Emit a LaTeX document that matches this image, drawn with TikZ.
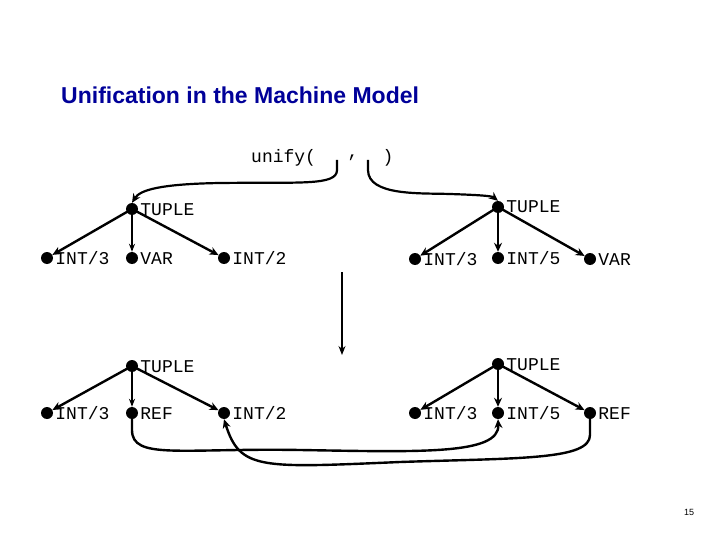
\documentclass[tikz,border=0pt]{standalone}
\usepackage{fontspec}
\setmainfont{Liberation Sans}
\newfontfamily\mono{Liberation Mono}
\usetikzlibrary{arrows.meta}
\begin{document}
\begin{tikzpicture}[x=1pt,y=-1pt,
  dot/.style={circle,fill=black,inner sep=0pt,minimum size=12pt},
  lbl/.style={anchor=base west,inner sep=0pt,font=\mono\fontsize{18}{18}\selectfont},
  edge/.style={line width=2.4pt,-{Stealth[length=9pt,width=8pt]}},
  link/.style={line width=2.4pt,-{Stealth[length=9pt,width=8pt]}}]
\useasboundingbox (0,0) rectangle (720,540);
\node[anchor=west,font=\bfseries\fontsize{23}{23}\selectfont,text=blue!60!black,inner sep=0pt] (title) at (61,95) {Unification in the Machine Model};
\node[anchor=west,inner sep=0pt,font=\mono\fontsize{18}{18}\selectfont] (unify) at (251,158) {unify(};
\node[inner sep=0pt,font=\mono\fontsize{18}{18}\selectfont] (comma) at (353,158) {,};
\node[inner sep=0pt,font=\mono\fontsize{18}{18}\selectfont] (close) at (388,158) {)};
\coordinate (b1) at (337,160);
\coordinate (b2) at (368,160);
% trees
\foreach \n/\x/\y/\t in {lt/132/209/TUPLE, la/47/258/{INT/3}, lb/132/258/VAR, lc/224/258/{INT/2},
  rt/498/207/TUPLE, ra/415/259/{INT/3}, rb/498/258/{INT/5}, rc/590/259/VAR,
  Lt/132/366/TUPLE, La/47/413/{INT/3}, Lb/132/413/REF, Lc/224/413/{INT/2},
  Rt/498/364/TUPLE, Ra/415/413/{INT/3}, Rb/498/413/{INT/5}, Rc/590/413/REF}{
  \node[dot] (\n) at (\x,\y) {};
  \node[lbl] (\n l) at ([xshift=2pt,yshift=-6pt]\n.east) {\t};
}
\foreach \p/\c in {lt/la,lt/lc,rt/ra,rt/rb,rt/rc,Lt/La,Lt/Lc,Rt/Ra,Rt/Rb,Rt/Rc}
  \draw[edge] (\p.center) -- (\c);
\draw[line width=1.2pt,-{Stealth[length=8pt,width=6pt]}] (lt) -- (lb);
\draw[line width=1.2pt,-{Stealth[length=8pt,width=6pt]}] (Lt) -- (Lb);
% bracket arrows
\draw[line width=2.2pt,-{Stealth[length=9pt,width=8pt]}] (b1) -- (337,170) .. controls (337,186) and (300,182) .. (220,183) .. controls (160,184) and (140,190) .. (lt.north);
\draw[line width=2.2pt,-{Stealth[length=9pt,width=8pt]}] (b2) -- (368,170) .. controls (368,196) and (420,193) .. (450,194) .. controls (480,195) and (492,196) .. (rt.north);
% middle arrow
\coordinate (m1) at (342,272);
\coordinate (m2) at (342,355);
\draw[line width=1.2pt,-{Stealth[length=9pt,width=7pt]}] (m1) -- (m2);
% links
\draw[link] (Lb.center) -- (132,430) .. controls (132,460) and (180,448) .. (300,450) .. controls (420,452) and (500,455) .. (Rb.south);
\draw[link] (Rc.center) -- (590,435) .. controls (590,460) and (520,458) .. (400,462) .. controls (260,468) and (240,470) .. (Lc.south);
\node[font=\fontsize{9}{9}\selectfont] (pg) at (689,512) {15};
\end{tikzpicture}
\end{document}
